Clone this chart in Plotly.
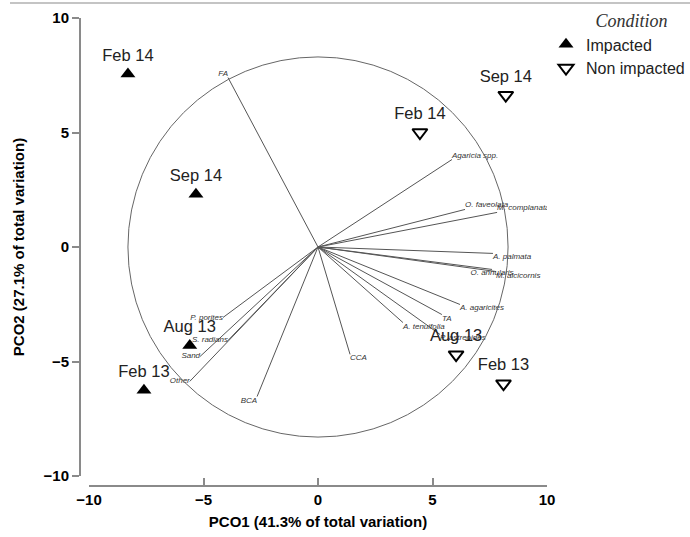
import plotly.graph_objects as go

W, H = 690, 537

# Samples (PCO scores)
imp_labels = ["Feb 14", "Sep 14", "Aug 13", "Feb 13"]
imp_x = [-8.3, -5.33, -5.6, -7.6]
imp_y = [7.55, 2.3, -4.3, -6.25]

non_labels = ["Sep 14", "Feb 14", "Aug 13", "Feb 13"]
non_x = [8.2, 4.45, 6.03, 8.1]
non_y = [6.63, 5.0, -4.7, -5.97]

# Vector overlay (variable correlations, scaled)
vec_names = ["FA", "Agaricia spp.", "O. faveolata", "M. complanata", "A. palmata",
             "O. annularis", "M. alcicornis", "A. agaricites", "TA", "A. tenuifolia",
             "P. astreoides", "P. porites", "S. radians", "Sand", "Other", "BCA", "CCA"]
vec_x = [-3.93, 5.85, 6.42, 7.82, 7.64, 7.6, 7.77, 6.2, 5.41, 3.71, 5.33,
         -4.15, -3.93, -5.15, -5.6, -2.66, 1.40]
vec_y = [7.40, 3.82, 1.64, 1.51, -0.28, -0.98, -1.07, -2.51, -2.95, -3.30, -3.82,
         -3.08, -4.08, -4.78, -5.87, -6.53, -4.69]
vec_pos = ["top left", "top right", "top right", "top right", "bottom right",
           "bottom center", "bottom right", "bottom right", "bottom right", "bottom right",
           "bottom right", "middle left", "middle left", "middle left", "middle left",
           "bottom left", "bottom right"]

circle_r = 8.3
ticks = [-10, -5, 0, 5, 10]

SANS = "Arial, Liberation Sans, sans-serif"
AXC = "#8a8a8a"

fig = go.Figure()

# vector lines
lx, ly = [], []
for x, y in zip(vec_x, vec_y):
    lx += [0, x, None]
    ly += [0, y, None]
fig.add_trace(go.Scatter(x=lx, y=ly, mode="lines", line=dict(color="#555555", width=1),
                         showlegend=False, hoverinfo="skip"))
fig.add_trace(go.Scatter(x=vec_x, y=vec_y, mode="text", text=vec_names, textposition=vec_pos,
                         textfont=dict(family=SANS, size=8, color="#333333", style="italic"),
                         showlegend=False))

fig.add_trace(go.Scatter(x=imp_x, y=imp_y, mode="markers+text", name="Impacted",
                         text=imp_labels, textposition="top center",
                         textfont=dict(family=SANS, size=16.5, color="#222222"),
                         marker=dict(symbol="triangle-up", size=13, color="black")))
fig.add_trace(go.Scatter(x=non_x, y=non_y, mode="markers+text", name="Non impacted",
                         text=non_labels, textposition="top center",
                         textfont=dict(family=SANS, size=16.5, color="#222222"),
                         marker=dict(symbol="triangle-down-open", size=13, color="black",
                                     line=dict(width=2, color="black"))))

fig.add_shape(type="circle", xref="x", yref="y", x0=-circle_r, x1=circle_r,
              y0=-circle_r, y1=circle_r, line=dict(color="#666666", width=1))
fig.add_shape(type="line", xref="paper", yref="paper", x0=10 / W, x1=1,
              y0=1 - 3 / H, y1=1 - 3 / H, line=dict(color="#b0b0b0", width=1.5))

fig.update_layout(
    width=W, height=H, margin=dict(l=0, r=0, t=0, b=0, autoexpand=False),
    paper_bgcolor="white", plot_bgcolor="white",
    font=dict(family=SANS, color="black"),
    xaxis=dict(domain=[89 / W, 547 / W], range=[-10, 10], anchor="free",
               position=(H - 486) / H, showline=True, linecolor=AXC, linewidth=2,
               ticks="inside", ticklen=7, tickwidth=1.5, tickcolor=AXC,
               tickvals=ticks, showgrid=False, zeroline=False,
               tickfont=dict(size=15, weight="bold", family=SANS),
               title=dict(text="PCO1 (41.3% of total variation)",
                          font=dict(size=15, weight="bold", family=SANS), standoff=8)),
    yaxis=dict(domain=[(H - 476) / H, (H - 18) / H], range=[-10, 10], anchor="free",
               position=80 / W, showline=True, linecolor=AXC, linewidth=2,
               ticks="outside", ticklen=7, tickwidth=1.5, tickcolor=AXC,
               tickvals=ticks, showgrid=False, zeroline=False,
               tickfont=dict(size=15, weight="bold", family=SANS),
               title=dict(text="PCO2 (27.1% of total variation)",
                          font=dict(size=15, weight="bold", family=SANS), standoff=14)),
    legend=dict(x=546 / W, y=1 - 4 / H, xanchor="left", yanchor="top",
                bgcolor="rgba(0,0,0,0)", tracegroupgap=0,
                font=dict(family=SANS, size=16, color="#222222"),
                title=dict(text="&nbsp;&nbsp;&nbsp;&nbsp;&nbsp;&nbsp;Condition", side="top center",
                           font=dict(family="Liberation Serif, Times New Roman, serif",
                                     size=18, style="italic", color="#333333"))),
)

fig.write_html("out.html")
